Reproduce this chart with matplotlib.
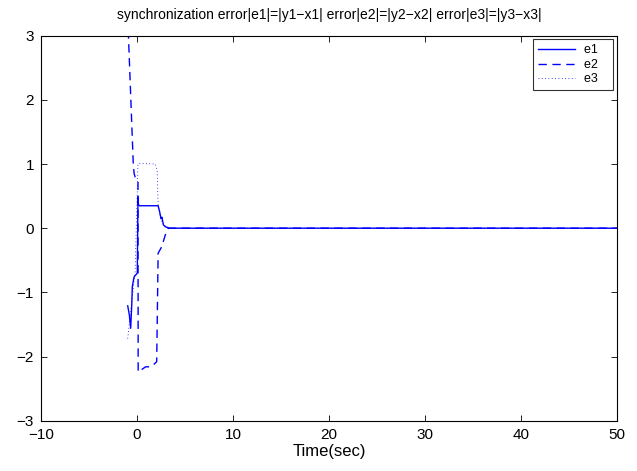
import matplotlib
matplotlib.use("Agg")
import matplotlib.pyplot as plt

# data
t1 = [-0.97, -0.8, -0.66, -0.55, -0.49, -0.31, 0.03, 0.1, 0.15, 0.24, 2.2, 2.35, 2.5, 2.6, 2.75, 3.0, 3.4, 50]
e1 = [-1.21, -1.35, -1.56, -1.2, -0.91, -0.76, -0.70, 0.49, 0.37, 0.35, 0.35, 0.26, 0.15, 0.17, 0.05, 0.02, 0.0, 0.0]

t2 = [-0.97, -0.39, -0.3, -0.2, 0.0, 0.1, 0.12, 0.9, 1.5, 2.05, 2.2, 2.57, 3.0, 3.3, 50]
e2 = [3.3, 1.0, 0.85, 0.8, 0.77, 0.75, -2.24, -2.16, -2.16, -2.08, -0.39, -0.29, -0.08, 0.0, 0.0]

t3 = [-0.97, -0.2, 0.1, 0.15, 1.9, 2.1, 2.2, 2.5, 3.0, 50]
e3 = [-1.72, -0.68, 1.0, 1.01, 1.0, 0.9, 0.36, 0.13, 0.0, 0.0]

labels = ['e1', 'e2', 'e3']
xticks = [-10, 0, 10, 20, 30, 40, 50]
yticks = [-3, -2, -1, 0, 1, 2, 3]
title = "synchronization error|e1|=|y1\u2212x1| error|e2|=|y2\u2212x2| error|e3|=|y3\u2212x3|"

plt.rcParams['font.family'] = ['Liberation Sans', 'DejaVu Sans']
plt.rcParams['axes.unicode_minus'] = True

fig = plt.figure(figsize=(6.37, 4.71), dpi=100)
ax = fig.add_axes([0.0644, 0.1068, 0.9042, 0.8174])

ax.plot(t1, e1, color='blue', lw=1.0, ls='-', label=labels[0] + '   ')
ax.plot(t2, e2, color='blue', lw=1.0, ls=(0, (6, 4)), label=labels[1] + '   ')
ax.plot(t3, e3, color='blue', lw=0.6, ls=(0, (1, 3)), label=labels[2] + '   ')

ax.set_xlim(-10, 50)
ax.set_ylim(-3, 3)
ax.set_xticks(xticks)
ax.set_yticks(yticks)
ax.set_xticklabels([str(v).replace('-', '\u2212') for v in xticks])
ax.set_yticklabels([str(v).replace('-', '\u2212') for v in yticks])
ax.tick_params(direction='in', top=True, right=True, labelsize=11, length=4, width=0.6, pad=5)
for s in ax.spines.values():
    s.set_linewidth(0.8)

ax.set_title(title, fontsize=10, pad=12)
ax.set_xlabel("Time(sec)", fontsize=12, labelpad=2)

leg = ax.legend(loc='upper right', fontsize=9, frameon=True, fancybox=False,
                edgecolor='black', handlelength=3.0, borderpad=0.4, labelspacing=0.2,
                handletextpad=0.7, borderaxespad=0.3)
leg.get_frame().set_linewidth(0.8)

fig.savefig("out.png", dpi=100)
